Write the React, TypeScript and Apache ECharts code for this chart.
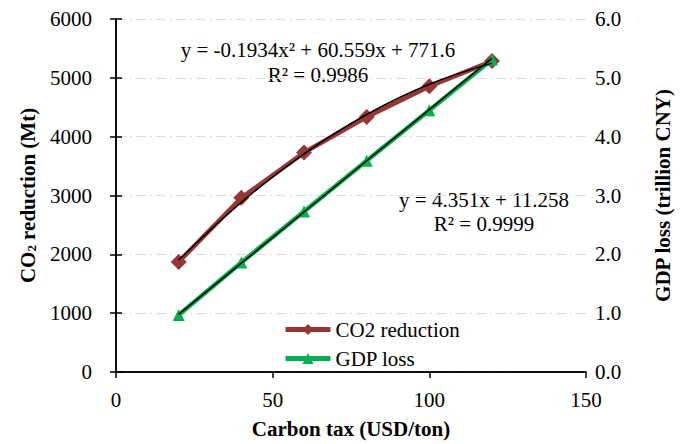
import React, { useEffect, useRef } from "react";
import * as echarts from "echarts";

// Carbon tax levels (USD/ton)
const carbonTax = [20, 40, 60, 80, 100, 120];
// CO2 reduction (Mt)
const co2Reduction = [1870, 2960, 3730, 4335, 4855, 5285];
// GDP loss (trillion CNY)
const gdpLoss = [0.97, 1.86, 2.73, 3.59, 4.45, 5.31];
// Trendline values at each tax level
const co2Trend = [1904, 2884, 3708, 4377, 4891, 5250];
const gdpTrend = [0.98, 1.85, 2.72, 3.59, 4.46, 5.33];

const xTicks = { min: 0, max: 150, interval: 50 };
const leftTicks = { min: 0, max: 6000, interval: 1000 };
const rightTicks = { min: 0, max: 6, interval: 1 };

const co2Equation = "y = -0.1934x\u00b2 + 60.559x + 771.6";
const co2R2 = "R\u00b2 = 0.9986";
const gdpEquation = "y = 4.351x + 11.258";
const gdpR2 = "R\u00b2 = 0.9999";

const FONT = "'Liberation Serif', 'Times New Roman', serif";
const FS = 21;

const zip = (xs: number[], ys: number[]) => xs.map((x, i) => [x, ys[i]]);

export default function App() {
  const ref = useRef<HTMLDivElement>(null);

  useEffect(() => {
    if (!ref.current) return;
    const chart = echarts.init(ref.current, undefined, { renderer: "svg" });

    const axisLine = { show: true, lineStyle: { color: "#000", width: 1.5 } };
    const tick = { show: true, inside: false, length: 6, lineStyle: { color: "#000", width: 1.5 } };
    const label = { color: "#000", fontSize: FS, fontFamily: FONT };
    const split = {
      show: true,
      lineStyle: { color: "#dcdcdc", width: 1, type: [10, 4, 2, 4] as any },
    };
    const nameStyle = { color: "#000", fontSize: FS, fontWeight: "bold" as const, fontFamily: FONT };
    const annot = (text: string, x: number, y: number) => ({
      type: "text",
      x,
      y,
      style: { text, fill: "#000", fontSize: FS, fontFamily: FONT, textAlign: "center", textVerticalAlign: "middle" },
    });

    chart.setOption({
      animation: false,
      backgroundColor: "#fff",
      grid: { left: 116, right: 99, top: 19, bottom: 69, containLabel: false },
      legend: {
        data: ["CO2 reduction", "GDP loss"],
        orient: "vertical",
        left: 278,
        top: 314,
        padding: 5,
        itemWidth: 45,
        itemHeight: 14,
        itemGap: 8,
        lineStyle: { width: 5 },
        textStyle: { color: "#000", fontSize: FS, fontFamily: FONT },
      },
      xAxis: [
        {
          type: "value",
          position: "bottom",
          ...xTicks,
          axisLine,
          axisTick: tick,
          axisLabel: { ...label, margin: 17 },
          splitLine: { show: false },
          name: "Carbon tax (USD/ton)",
          nameLocation: "middle",
          nameGap: 46,
          nameTextStyle: nameStyle,
        },
        {
          type: "value",
          position: "top",
          ...xTicks,
          axisLine,
          axisTick: { show: false },
          axisLabel: { show: false },
          splitLine: { show: false },
        },
      ],
      yAxis: [
        {
          type: "value",
          position: "left",
          ...leftTicks,
          axisLine,
          axisTick: tick,
          axisLabel: { ...label, margin: 24, formatter: (v: number) => String(v) },
          splitLine: split,
          name: "{b|CO}{s|2}{b| reduction (Mt)}",
          nameLocation: "middle",
          nameGap: 78,
          nameRotate: 90,
          nameTextStyle: {
            ...nameStyle,
            rich: {
              b: { ...nameStyle, verticalAlign: "bottom", lineHeight: 24 },
              s: { ...nameStyle, fontSize: 13, verticalAlign: "bottom", lineHeight: 18 },
            },
          },
        },
        {
          type: "value",
          position: "right",
          ...rightTicks,
          axisLine,
          axisTick: tick,
          axisLabel: { ...label, margin: 9, formatter: (v: number) => v.toFixed(1) },
          splitLine: { show: false },
          name: "GDP loss (trillion CNY)",
          nameLocation: "middle",
          nameGap: 66,
          nameRotate: 90,
          nameTextStyle: nameStyle,
        },
      ],
      series: [
        {
          name: "CO2 reduction",
          type: "line",
          xAxisIndex: 0,
          yAxisIndex: 0,
          data: zip(carbonTax, co2Reduction),
          symbol: "diamond",
          symbolSize: 16,
          itemStyle: { color: "#953735" },
          lineStyle: { color: "#953735", width: 4.5 },
          z: 2,
        },
        {
          name: "GDP loss",
          type: "line",
          xAxisIndex: 0,
          yAxisIndex: 1,
          data: zip(carbonTax, gdpLoss),
          symbol: "triangle",
          symbolSize: 12,
          itemStyle: { color: "#00B050" },
          lineStyle: { color: "#00B050", width: 4.5 },
          z: 2,
        },
        {
          name: "CO2 trend",
          type: "line",
          xAxisIndex: 0,
          yAxisIndex: 0,
          data: zip(carbonTax, co2Trend),
          smooth: 0.4,
          symbol: "none",
          lineStyle: { color: "#000", width: 1.5 },
          z: 5,
        },
        {
          name: "GDP trend",
          type: "line",
          xAxisIndex: 0,
          yAxisIndex: 1,
          data: zip(carbonTax, gdpTrend),
          symbol: "none",
          lineStyle: { color: "#000", width: 1.5 },
          z: 5,
        },
      ],
      graphic: [
        annot(co2Equation, 318, 50),
        annot(co2R2, 318, 75),
        annot(gdpEquation, 484, 200),
        annot(gdpR2, 484, 224),
      ],
    });

    return () => chart.dispose();
  }, []);

  return <div ref={ref} style={{ width: 685, height: 444, position: "absolute", left: 0, top: 0 }} />;
}
